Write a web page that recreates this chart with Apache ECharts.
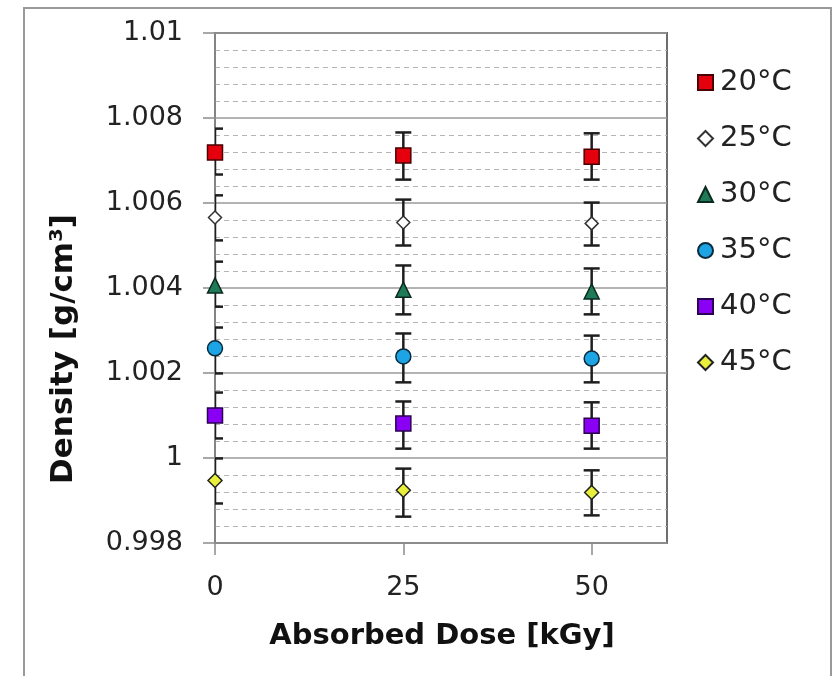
<!DOCTYPE html>
<html>
<head>
<meta charset="utf-8">
<script src="https://cdn.jsdelivr.net/npm/echarts@6/dist/echarts.min.js"></script>
<style>html,body{margin:0;padding:0;background:#fff;}#c{width:834px;height:676px;}</style>
</head>
<body>
<div id="c"></div>
<script>
const doses = [0, 25, 50];
const xTicks = [0, 25, 50];
const yTicks = [0.998, 1, 1.002, 1.004, 1.006, 1.008, 1.01];
const names = ['20°C', '25°C', '30°C', '35°C', '40°C', '45°C'];

const d20 = [1.00719, 1.00712, 1.00709];
const d20Lo = [1.00667, 1.00655, 1.00655];
const d20Hi = [1.00775, 1.00766, 1.00764];

const d25 = [1.00566, 1.00554, 1.00552];
const d25Lo = [1.00512, 1.00500, 1.00500];
const d25Hi = [1.00618, 1.00608, 1.00601];

const d30 = [1.00406, 1.00396, 1.00392];
const d30Lo = [1.00356, 1.00338, 1.00338];
const d30Hi = [1.00462, 1.00453, 1.00446];

const d35 = [1.00258, 1.00239, 1.00234];
const d35Lo = [1.00199, 1.00178, 1.00178];
const d35Hi = [1.00307, 1.00293, 1.00288];

const d40 = [1.00100, 1.00081, 1.00076];
const d40Lo = [1.00046, 1.00022, 1.00022];
const d40Hi = [1.00154, 1.00133, 1.00131];

const d45 = [0.99947, 0.99924, 0.99919];
const d45Lo = [0.99893, 0.99862, 0.99865];
const d45Hi = [0.99999, 0.99975, 0.99971];

const values = [d20, d25, d30, d35, d40, d45];
const lows = [d20Lo, d25Lo, d30Lo, d35Lo, d40Lo, d45Lo];
const highs = [d20Hi, d25Hi, d30Hi, d35Hi, d40Hi, d45Hi];

const styles = [
  {symbol: 'rect', size: 15, color: '#e4000c', border: '#4a0000'},
  {symbol: 'diamond', size: 13, color: '#ffffff', border: '#333333'},
  {symbol: 'triangle', size: 15, color: '#1f7a57', border: '#0b2a1e'},
  {symbol: 'circle', size: 15, color: '#1ca4e4', border: '#0a2a3a'},
  {symbol: 'rect', size: 15, color: '#8a00f5', border: '#2a0050'},
  {symbol: 'diamond', size: 14, color: '#e8f03c', border: '#222222'}
];

const FONT = 'DejaVu Sans';
const series = [];

values.forEach((vals, i) => {
  series.push({
    name: names[i] + ' err',
    type: 'custom',
    clip: true,
    z: 2,
    data: doses.map((d, k) => [d, lows[i][k], highs[i][k]]),
    renderItem: function (params, api) {
      const lo = api.coord([api.value(0), api.value(1)]);
      const hi = api.coord([api.value(0), api.value(2)]);
      const cw = 8;
      const st = {stroke: '#1e1e1e', lineWidth: 2.5};
      return {
        type: 'group',
        children: [
          {type: 'line', shape: {x1: lo[0], y1: lo[1], x2: hi[0], y2: hi[1]}, style: st},
          {type: 'line', shape: {x1: lo[0] - cw, y1: lo[1], x2: lo[0] + cw, y2: lo[1]}, style: st},
          {type: 'line', shape: {x1: hi[0] - cw, y1: hi[1], x2: hi[0] + cw, y2: hi[1]}, style: st}
        ]
      };
    },
    silent: true
  });
});

values.forEach((vals, i) => {
  const s = styles[i];
  series.push({
    name: names[i],
    type: 'scatter',
    z: 5,
    symbol: s.symbol,
    symbolSize: s.size,
    itemStyle: {color: s.color, borderColor: s.border, borderWidth: 1.5, opacity: 1},
    data: doses.map((d, k) => [d, vals[k]])
  });
});

const chart = echarts.init(document.getElementById('c'), null, {renderer: 'canvas'});
chart.setOption({
  animation: false,
  backgroundColor: '#ffffff',
  grid: {left: 215, right: 167, top: 33, bottom: 133, show: true, borderColor: '#6e6e6e', borderWidth: 2, backgroundColor: 'transparent'},
  legend: {
    data: names,
    orient: 'vertical',
    left: 692,
    top: 63,
    itemWidth: 15,
    itemHeight: 15,
    itemGap: 27,
    textStyle: {fontFamily: FONT, fontSize: 29, color: '#222', padding: [0, 0, 0, 2]}
  },
  xAxis: {
    type: 'value',
    min: 0,
    max: 60,
    interval: 25,
    axisLine: {show: true, lineStyle: {color: '#8c8c8c', width: 1.5}},
    axisTick: {show: true, length: 12, inside: false, customValues: xTicks, lineStyle: {color: '#8c8c8c', width: 1.5}},
    axisLabel: {customValues: xTicks, fontFamily: FONT, fontSize: 27, color: '#222', margin: 31},
    splitLine: {show: false}
  },
  yAxis: {
    type: 'value',
    min: 0.998,
    max: 1.01,
    interval: 0.002,
    axisLine: {show: true, lineStyle: {color: '#8c8c8c', width: 1.5}},
    axisTick: {show: true, length: 12, inside: false, lineStyle: {color: '#8c8c8c', width: 1.5}},
    axisLabel: {
      fontFamily: FONT, fontSize: 27, color: '#222', margin: 32,
      formatter: v => String(parseFloat(v.toFixed(3)))
    },
    splitLine: {show: true, lineStyle: {color: '#9a9a9a', width: 1.5}},
    minorTick: {show: false, splitNumber: 5},
    minorSplitLine: {show: true, lineStyle: {color: '#b4b4b4', width: 1.2, type: [5, 4]}}
  },
  graphic: [
    {type: 'rect', z: -10, shape: {x: 24, y: 8, width: 807, height: 680}, style: {fill: 'none', stroke: '#999999', lineWidth: 2}},
    {type: 'text', x: 64, y: 349, rotation: Math.PI / 2,
      style: {text: 'Density [g/cm³]', fontFamily: FONT, fontWeight: 'bold', fontSize: 31, fill: '#111', align: 'center', verticalAlign: 'middle'}},
    {type: 'text', x: 442, y: 636,
      style: {text: 'Absorbed Dose [kGy]', fontFamily: FONT, fontWeight: 'bold', fontSize: 29, fill: '#111', align: 'center', verticalAlign: 'middle'}}
  ],
  series: series
});
</script>
</body>
</html>
